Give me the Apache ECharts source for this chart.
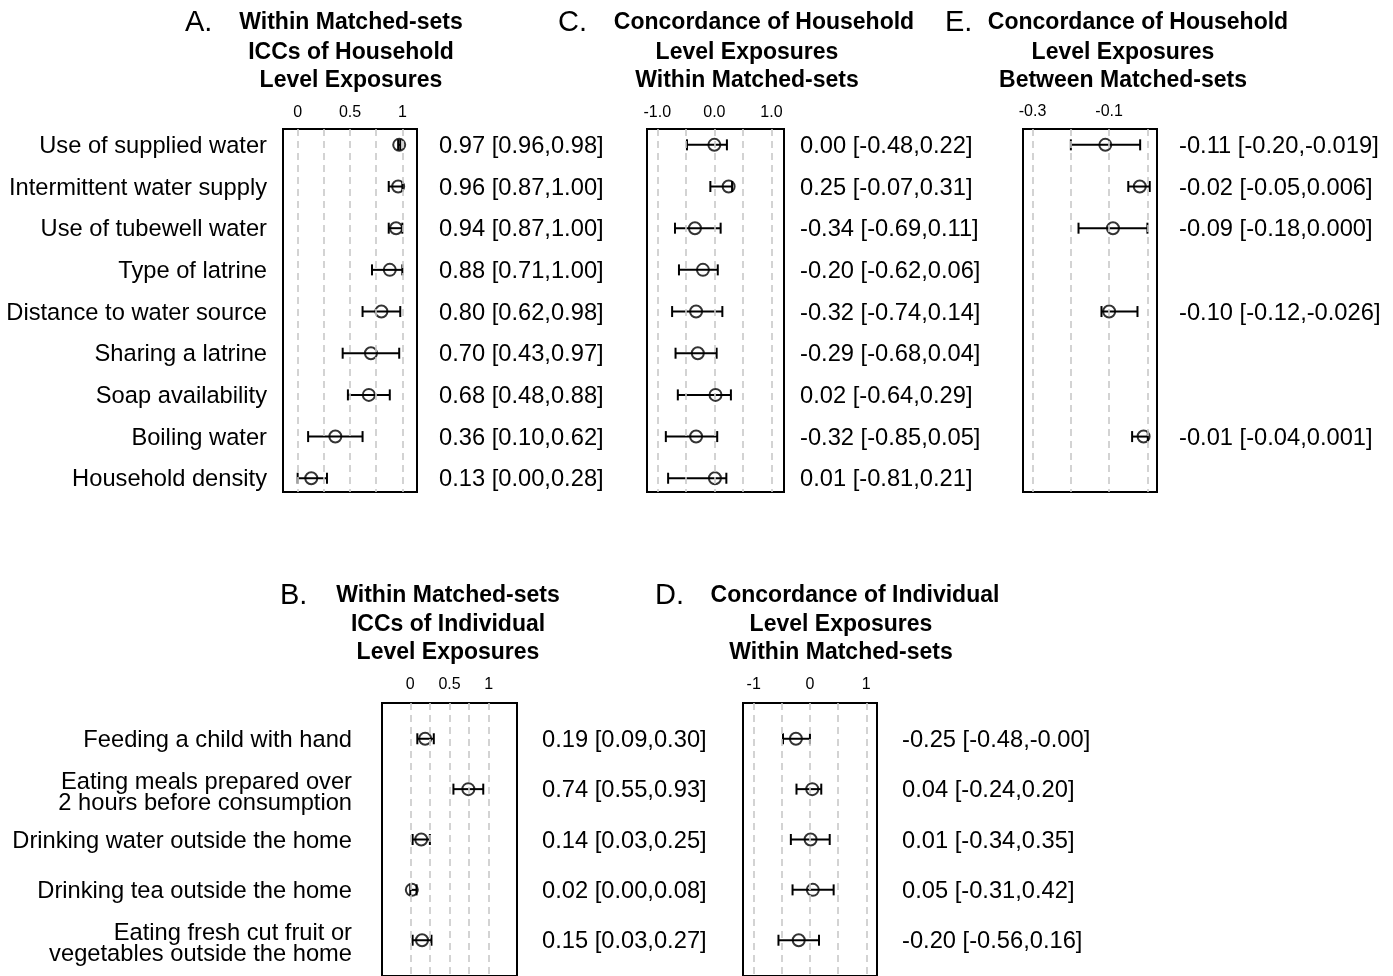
<!DOCTYPE html>
<html><head><meta charset="utf-8">
<script src="https://cdn.jsdelivr.net/npm/echarts@6/dist/echarts.min.js"></script>
<style>html,body{margin:0;padding:0;background:#fff}#c{width:1393px;height:976px}</style>
</head><body><div id="c"></div>
<script>
// ---------- DATA ----------
const A_labels = ["Use of supplied water","Intermittent water supply","Use of tubewell water","Type of latrine","Distance to water source","Sharing a latrine","Soap availability","Boiling water","Household density"];
const A_rows = [1,2,3,4,5,6,7,8,9];
const A_est = [0.97,0.96,0.94,0.88,0.80,0.70,0.68,0.36,0.13];
const A_lo  = [0.96,0.87,0.87,0.71,0.62,0.43,0.48,0.10,0.00];
const A_hi  = [0.98,1.00,1.00,1.00,0.98,0.97,0.88,0.62,0.28];

const C_rows = [1,2,3,4,5,6,7,8,9];
const C_est = [0.00,0.25,-0.34,-0.20,-0.32,-0.29,0.02,-0.32,0.01];
const C_lo  = [-0.48,-0.07,-0.69,-0.62,-0.74,-0.68,-0.64,-0.85,-0.81];
const C_hi  = [0.22,0.31,0.11,0.06,0.14,0.04,0.29,0.05,0.21];

const E_rows = [1,2,3,5,8];
const E_est = [-0.11,-0.02,-0.09,-0.10,-0.01];
const E_lo  = [-0.20,-0.05,-0.18,-0.12,-0.04];
const E_hi  = [-0.019,0.006,0.000,-0.026,0.001];

const B_labels = ["Feeding a child with hand","Eating meals prepared over\n2 hours before consumption","Drinking water outside the home","Drinking tea outside the home","Eating fresh cut fruit or\nvegetables outside the home"];
const B_rows = [1,2,3,4,5];
const B_est = [0.19,0.74,0.14,0.02,0.15];
const B_lo  = [0.09,0.55,0.03,0.00,0.03];
const B_hi  = [0.30,0.93,0.25,0.08,0.27];

const D_rows = [1,2,3,4,5];
const D_est = [-0.25,0.04,0.01,0.05,-0.20];
const D_lo  = [-0.48,-0.24,-0.34,-0.31,-0.56];
const D_hi  = [-0.001,0.20,0.35,0.42,0.16];

const A_ticks = [0,0.5,1],   A_tickText = ["0","0.5","1"],   A_dash = [0,0.25,0.5,0.75,1];
const C_ticks = [-1,0,1],    C_tickText = ["-1.0","0.0","1.0"], C_dash = [-1,-0.5,0,0.5,1];
const E_ticks = [-0.3,-0.1], E_tickText = ["-0.3","-0.1"],   E_dash = [-0.3,-0.2,-0.1,0];
const B_ticks = [0,0.5,1],   B_tickText = ["0","0.5","1"],   B_dash = [0,0.25,0.5,0.75,1];
const D_ticks = [-1,0,1],    D_tickText = ["-1","0","1"],    D_dash = [-1,-0.5,0,0.5,1];

// ---------- LAYOUT ----------
const FONT = '"Liberation Sans", Arial, Helvetica, sans-serif';
const TXT = 23.7;
const panels = [
  {rows:A_rows, est:A_est, lo:A_lo, hi:A_hi, labels:A_labels, hiDec:2, ticks:A_ticks, tickText:A_tickText, dash:A_dash,
   grid:{left:283, top:129, width:134, height:363}, x:[-0.14,1.14], y:[0.62,9.33], labOff:16, valOff:22, tm:8},
  {rows:C_rows, est:C_est, lo:C_lo, hi:C_hi, labels:null, hiDec:2, ticks:C_ticks, tickText:C_tickText, dash:C_dash,
   grid:{left:647, top:129, width:137, height:363}, x:[-1.18,1.22], y:[0.62,9.33], labOff:16, valOff:16, tm:8},
  {rows:E_rows, est:E_est, lo:E_lo, hi:E_hi, labels:null, hiDec:3, ticks:E_ticks, tickText:E_tickText, dash:E_dash,
   grid:{left:1023, top:129, width:134, height:363}, x:[-0.325,0.025], y:[0.62,9.33], labOff:16, valOff:22, tm:9},
  {rows:B_rows, est:B_est, lo:B_lo, hi:B_hi, labels:B_labels, hiDec:2, ticks:B_ticks, tickText:B_tickText, dash:B_dash,
   grid:{left:382, top:703, width:135, height:277}, x:[-0.36,1.36], y:[0.29,5.71], labOff:30, valOff:25, tm:10},
  {rows:D_rows, est:D_est, lo:D_lo, hi:D_hi, labels:null, hiDec:2, ticks:D_ticks, tickText:D_tickText, dash:D_dash,
   grid:{left:743, top:703, width:134, height:277}, x:[-1.19,1.19], y:[0.29,5.71], labOff:16, valOff:25, tm:10}
];

const titles = [
  {letter:"A.", lx:185, lines:["Within Matched-sets","ICCs of Household","Level Exposures"], cx:[351,351,351], y:[22,52,80]},
  {letter:"C.", lx:558, lines:["Concordance of Household","Level Exposures","Within Matched-sets"], cx:[764,747,747], y:[22,52,80]},
  {letter:"E.", lx:945, lines:["Concordance of Household","Level Exposures","Between Matched-sets"], cx:[1138,1123,1123], y:[22,52,80]},
  {letter:"B.", lx:280, lines:["Within Matched-sets","ICCs of Individual","Level Exposures"], cx:[448,448,448], y:[595,624,652]},
  {letter:"D.", lx:655, lines:["Concordance of Individual","Level Exposures","Within Matched-sets"], cx:[855,841,841], y:[595,624,652]}
];

function fmt(v, d){ return v.toFixed(d); }

const grids = [], xAxes = [], yAxes = [], series = [];
panels.forEach((p, i) => {
  grids.push(Object.assign({show:true, borderColor:'#000', borderWidth:2, backgroundColor:'transparent', containLabel:false}, p.grid));
  xAxes.push({gridIndex:i, type:'value', position:'top', min:p.x[0], max:p.x[1],
    axisLine:{show:false}, axisTick:{show:false}, splitLine:{show:false},
    axisLabel:{customValues:p.ticks, fontSize:16, color:'#000', fontFamily:FONT, margin:p.tm,
      formatter:(v)=>{ const k=p.ticks.findIndex(t=>Math.abs(t-v)<1e-9); return k>=0?p.tickText[k]:''; }}});
  yAxes.push({gridIndex:i, type:'value', inverse:true, min:p.y[0], max:p.y[1], show:false});
  // dashed reference lines
  series.push({type:'scatter', xAxisIndex:i, yAxisIndex:i, data:[], z:1, silent:true,
    markLine:{silent:true, symbol:'none', animation:false, label:{show:false},
      lineStyle:{type:[7,5], color:'#c9c9c9', width:1.6},
      data:p.dash.map(v=>({xAxis:v}))}});
  const data = p.rows.map((r, k) => [r, p.est[k], p.lo[k], p.hi[k], k]);
  series.push({type:'custom', xAxisIndex:i, yAxisIndex:i, z:3, silent:true, animation:false,
    encode:{x:[1,2,3], y:0}, data:data,
    renderItem:(params, api) => {
      const y = api.value(0), lo = api.value(2), hi = api.value(3), k = api.value(4);
      const a = api.coord([lo, y]), b = api.coord([hi, y]);
      const cs = params.coordSys;
      const st = {stroke:'#000', lineWidth:2};
      const ch = [
        {type:'line', shape:{x1:a[0], y1:a[1], x2:b[0], y2:b[1]}, style:st},
        {type:'line', shape:{x1:a[0], y1:a[1]-5.5, x2:a[0], y2:a[1]+5.5}, style:st},
        {type:'line', shape:{x1:b[0], y1:b[1]-5.5, x2:b[0], y2:b[1]+5.5}, style:st},
        {type:'text', style:{text: fmt(p.est[k],2)+' ['+fmt(p.lo[k],2)+','+fmt(p.hi[k],p.hiDec)+']',
          x: cs.x + cs.width + p.valOff, y: a[1] + 1.5, align:'left', verticalAlign:'middle',
          fontSize:TXT, fontFamily:FONT, fill:'#000'}}
      ];
      if (p.labels) {
        const multi = p.labels[k].indexOf('\n') >= 0;
        ch.push({type:'text', style:{text:p.labels[k], x: cs.x - p.labOff, y: a[1] + (multi ? 4 : 1.5), align:'right', verticalAlign:'middle',
          fontSize:TXT, lineHeight:21, fontFamily:FONT, fill:'#000'}});
      }
      return {type:'group', children:ch};
    }});
  series.push({type:'scatter', xAxisIndex:i, yAxisIndex:i, z:4, silent:true, animation:false,
    symbol:'circle', symbolSize:12,
    itemStyle:{color:'rgba(0,0,0,0)', borderColor:'#000', borderWidth:2},
    data:p.rows.map((r,k)=>[p.est[k], r])});
});

const graphic = [];
titles.forEach(t => {
  graphic.push({type:'text', left:t.lx, top:t.y[0]-14, style:{text:t.letter, fontSize:29, fontFamily:FONT, fill:'#000'}});
  t.lines.forEach((ln, j) => {
    graphic.push({type:'text', x:t.cx[j], y:t.y[j]+1, style:{text:ln, fontSize:23, fontWeight:'bold', fontFamily:FONT, fill:'#000', align:'center', verticalAlign:'middle'}});
  });
});

const chart = echarts.init(document.getElementById('c'), null, {renderer:'canvas'});
chart.setOption({animation:false, backgroundColor:'#fff', grid:grids, xAxis:xAxes, yAxis:yAxes, series:series, graphic:graphic});
</script></body></html>
